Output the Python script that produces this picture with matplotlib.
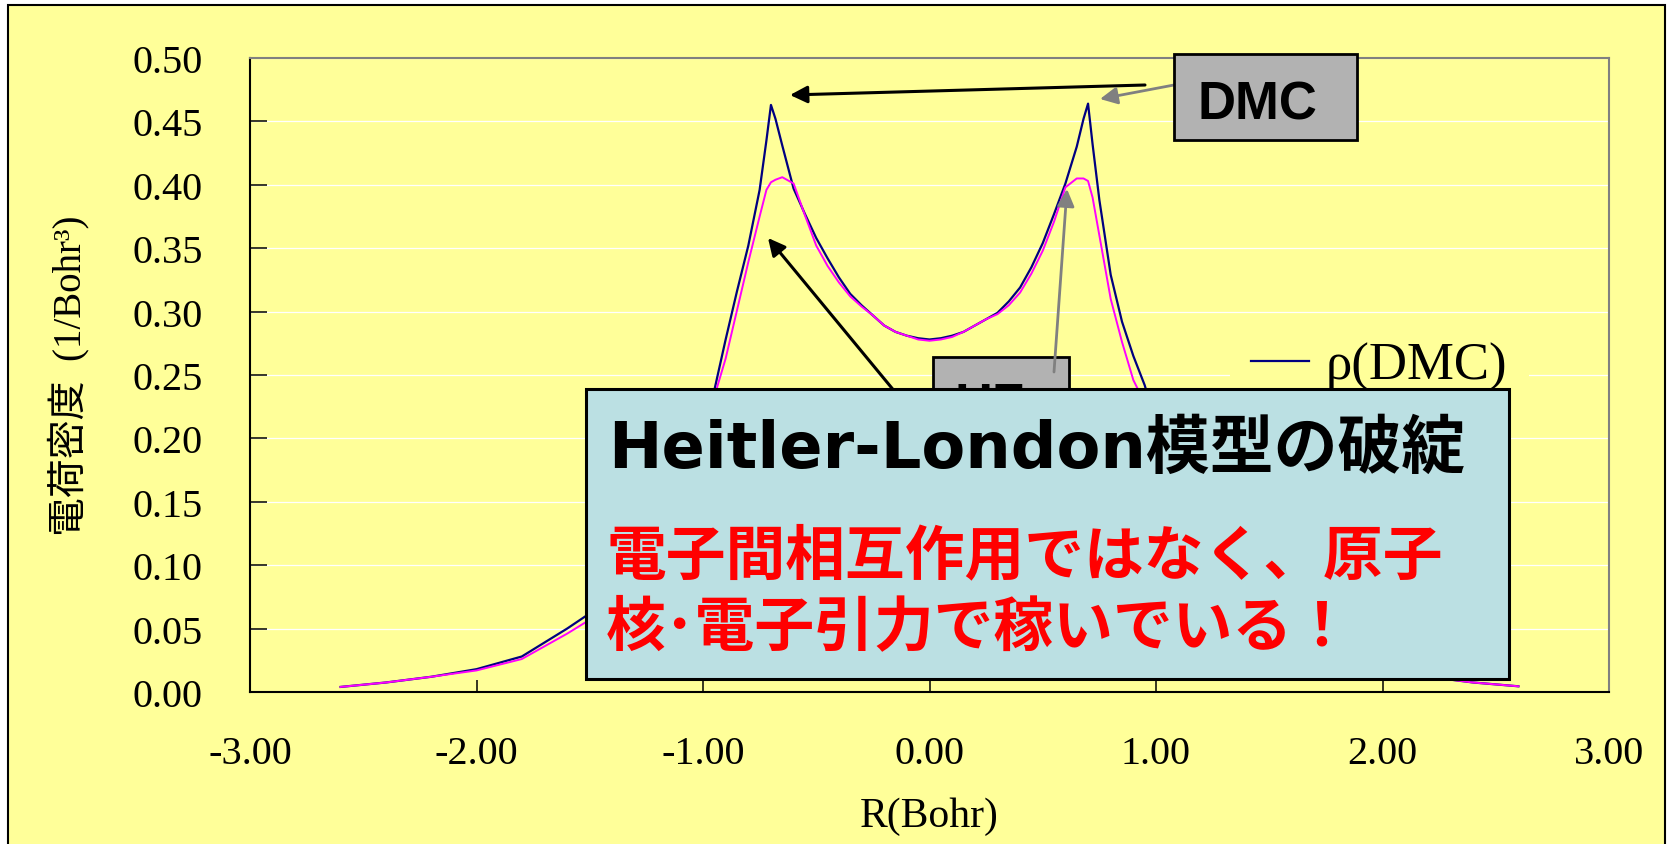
import numpy as np
import matplotlib.pyplot as plt
from matplotlib.patches import Rectangle, FancyArrowPatch

plt.rcParams['axes.unicode_minus'] = False

# datos: densidad de carga a lo largo del eje de enlace
R = [-2.6, -2.4, -2.2, -2.0, -1.8, -1.6, -1.5, -1.4, -1.3, -1.2, -1.1, -1.0,
     -0.95, -0.9, -0.85, -0.8, -0.75, -0.72, -0.7, -0.68, -0.65, -0.6,
     -0.55, -0.5, -0.45, -0.4, -0.35, -0.3, -0.25, -0.2, -0.15, -0.1, -0.05, 0.0,
     0.05, 0.1, 0.15, 0.2, 0.25, 0.3, 0.35, 0.4, 0.45, 0.5, 0.55, 0.6,
     0.65, 0.68, 0.7, 0.72, 0.75, 0.8, 0.85, 0.9, 0.95, 1.0,
     1.1, 1.2, 1.3, 1.4, 1.5, 1.6, 1.8, 2.0, 2.2, 2.4, 2.6]

rho_dmc = [0.004, 0.0075, 0.012, 0.018, 0.028, 0.050, 0.062, 0.079, 0.101, 0.130, 0.166, 0.212,
           0.238, 0.278, 0.316, 0.352, 0.396, 0.435, 0.463, 0.452, 0.431, 0.397,
           0.377, 0.358, 0.342, 0.327, 0.314, 0.305, 0.297, 0.289, 0.284, 0.281, 0.279, 0.278,
           0.279, 0.281, 0.284, 0.289, 0.294, 0.299, 0.308, 0.319, 0.335, 0.354, 0.377, 0.401,
           0.430, 0.452, 0.464, 0.432, 0.388, 0.329, 0.292, 0.265, 0.242, 0.212,
           0.168, 0.130, 0.100, 0.078, 0.061, 0.048, 0.028, 0.018, 0.012, 0.0075, 0.0045]

rho_hf = [0.004, 0.0075, 0.012, 0.017, 0.026, 0.046, 0.057, 0.073, 0.094, 0.122, 0.158, 0.203,
          0.233, 0.263, 0.301, 0.339, 0.375, 0.396, 0.402, 0.404, 0.406, 0.401,
          0.376, 0.352, 0.336, 0.323, 0.312, 0.304, 0.297, 0.289, 0.284, 0.281, 0.278, 0.277,
          0.278, 0.280, 0.284, 0.289, 0.294, 0.298, 0.305, 0.315, 0.330, 0.348, 0.371, 0.398,
          0.405, 0.405, 0.403, 0.390, 0.360, 0.310, 0.276, 0.246, 0.228, 0.202,
          0.158, 0.122, 0.094, 0.073, 0.057, 0.046, 0.026, 0.017, 0.012, 0.0075, 0.0045]

xticks = [-3, -2, -1, 0, 1, 2, 3]
yticks = [0.0, 0.05, 0.10, 0.15, 0.20, 0.25, 0.30, 0.35, 0.40, 0.45, 0.50]

W, H = 1668, 845
amarillo = '#FFFF99'
serif = ['Liberation Serif', 'Noto Sans CJK JP']
gotica = ['Liberation Sans', 'Noto Sans CJK JP']

def fp(px, py):
    # pixeles (desde arriba) -> fraccion de figura
    return (px / W, 1 - py / H)

fig = plt.figure(figsize=(W / 100, H / 100), dpi=100, facecolor='white')

# marco exterior amarillo
fig.patches.append(Rectangle((8 / W, -0.05), (1665 - 8) / W, 1.05 - 6 / H,
                             transform=fig.transFigure, facecolor=amarillo,
                             edgecolor='black', lw=1.5, zorder=-1))

ax = fig.add_axes([250 / W, 1 - 693 / H, (1609 - 250) / W, (693 - 59) / H])
ax.set_facecolor(amarillo)

ax.plot(R, rho_dmc, color='#000080', lw=1.6, label='ρ(DMC)')
# la entrada rho(HF) de la leyenda queda tapada por la caja azul
ax.plot(R, rho_hf, color='#FF00FF', lw=1.4, label='_nolegend_')

ax.set_xlim(-3, 3)
ax.set_ylim(0, 0.5)
ax.set_xticks(xticks)
ax.set_yticks(yticks)
ax.set_xticklabels(['%.2f' % v for v in xticks], family=serif, fontsize=29)
ax.set_yticklabels(['%.2f' % v for v in yticks], family=serif, fontsize=29)
ax.tick_params(axis='y', direction='in', length=12, width=1.1, pad=34)
ax.tick_params(axis='x', direction='in', length=9, width=1.1, pad=31)
ax.grid(axis='y', color='white', lw=0.9)
ax.set_axisbelow(True)
for s in ['left', 'bottom']:
    ax.spines[s].set_color('black')
    ax.spines[s].set_linewidth(1.5)
for s in ['top', 'right']:
    ax.spines[s].set_color('#808080')
    ax.spines[s].set_linewidth(1.5)

ax.set_xlabel('R(Bohr)', family=serif, fontsize=30)
ax.xaxis.set_label_coords(0.5, -0.165)
ax.set_ylabel('電荷密度  (1/Bohr³)', family=serif, fontsize=28)
ax.yaxis.set_label_coords(-0.118, 0.5)

leg = ax.legend(loc='upper left', bbox_to_anchor=fp(1230, 322), bbox_transform=fig.transFigure,
                frameon=True, facecolor=amarillo, edgecolor='none', framealpha=1,
                prop={'family': serif, 'size': 38}, handlelength=1.1, handletextpad=0.32,
                borderaxespad=0)
leg.get_frame().set_boxstyle('square', pad=0)

# cajas de texto
fig.patches.append(Rectangle(fp(933, 450), (1069 - 933) / W, (450 - 358) / H,
                             transform=fig.transFigure, facecolor='#B2B2B2',
                             edgecolor='black', lw=2, zorder=2))
fig.text(*fp(990, 421), 'HF', family=gotica, weight='bold', fontsize=38,
         ha='center', va='baseline', zorder=2.1)

fig.patches.append(Rectangle(fp(1174, 141), (1357 - 1174) / W, (141 - 55) / H,
                             transform=fig.transFigure, facecolor='#B2B2B2',
                             edgecolor='black', lw=2, zorder=4))
fig.text(*fp(1257, 120), 'DMC', family=gotica, weight='bold', fontsize=38,
         ha='center', va='baseline', zorder=4.1)

# flechas
flechas = [((1145, 86), (790, 96), 'black', 2.2),
           ((1174, 86), (1100, 100), '#808080', 2.0),
           ((905, 405), (768, 239), 'black', 2.2),
           ((1054, 373), (1067, 190), '#808080', 2.0)]
for a, b, c, lw in flechas:
    fig.patches.append(FancyArrowPatch(fp(*a), fp(*b), transform=fig.transFigure,
                                       arrowstyle='-|>', mutation_scale=26, color=c,
                                       lw=lw, shrinkA=0, shrinkB=0, zorder=3))

# caja azul
fig.patches.append(Rectangle(fp(586, 680), (1509 - 586) / W, (680 - 390) / H,
                             transform=fig.transFigure, facecolor='#BBE0E3',
                             edgecolor='black', lw=2.2, zorder=5))
fig.text(*fp(608, 468), 'Heitler-London模型の破綻', family=['DejaVu Sans', 'Noto Sans CJK JP'],
         weight='bold', fontsize=46, ha='left', va='baseline', zorder=6)
fig.text(*fp(606, 557), '電子間相互作用ではなく、原子', family=['Noto Sans CJK JP'],
         weight='bold', fontsize=43, color='#FF0000', ha='left', va='center', zorder=6)
fig.text(*fp(606, 628), '核･電子引力で稼いでいる！', family=['Noto Sans CJK JP'],
         weight='bold', fontsize=43, color='#FF0000', ha='left', va='center', zorder=6)

plt.savefig('out.png', dpi=100, facecolor=fig.get_facecolor())
